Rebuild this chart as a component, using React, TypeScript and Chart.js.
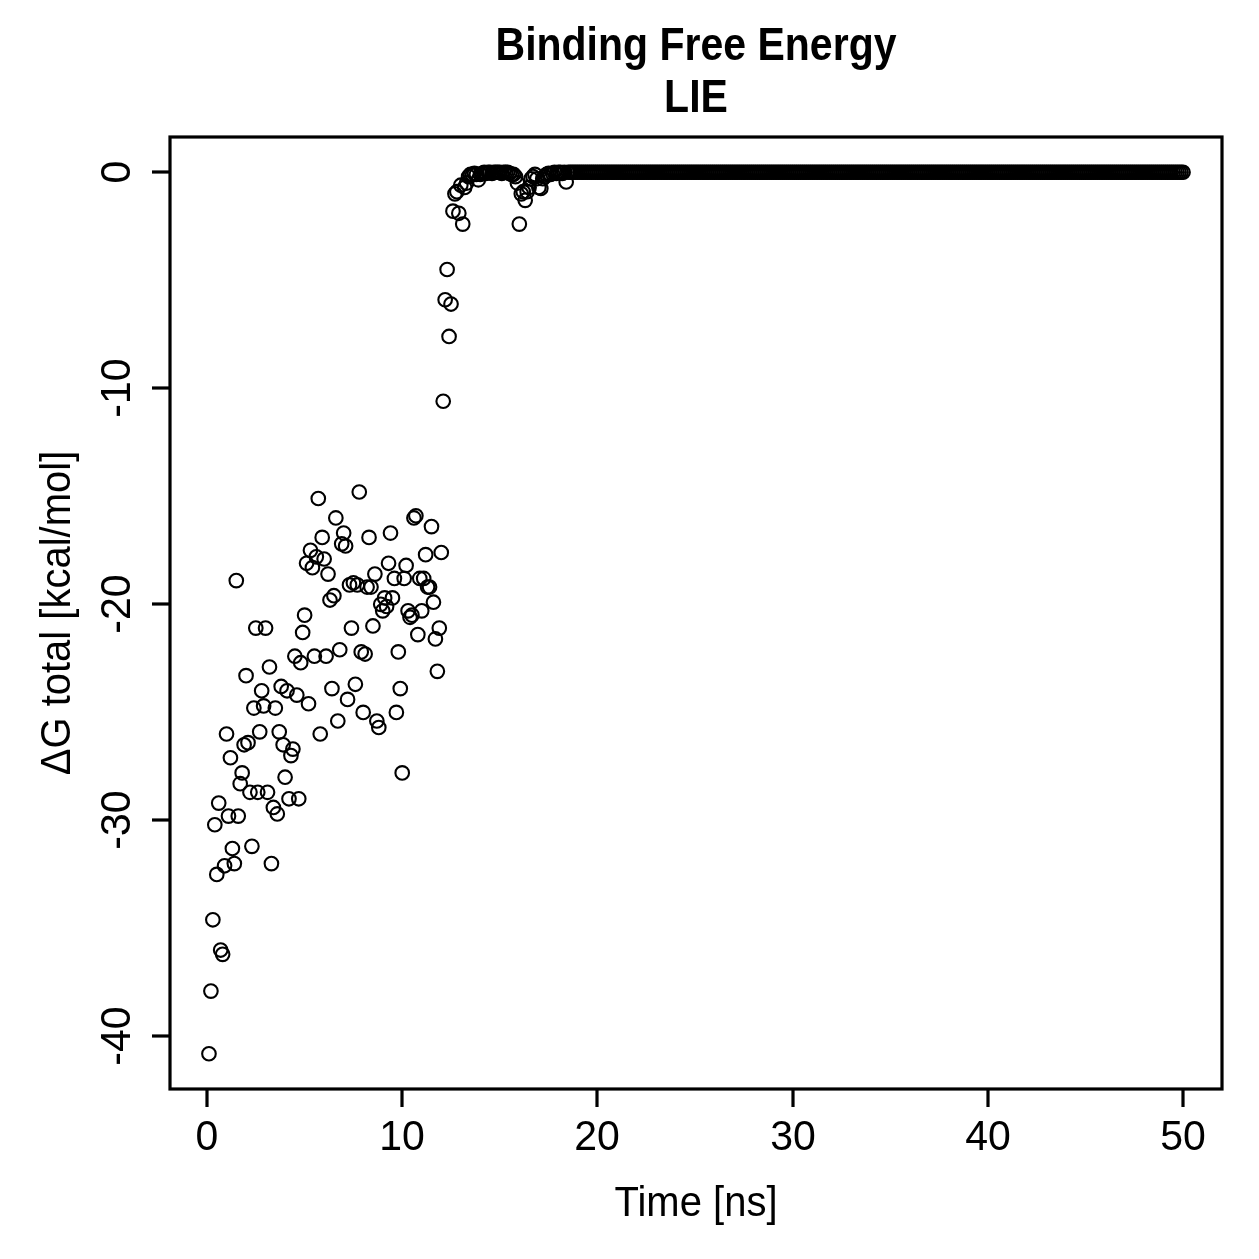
import React, { useEffect, useRef } from "react";
import { Chart, registerables } from "chart.js";

Chart.register(...registerables);

const titleLines = ["Binding Free Energy", "LIE"];
const xLabel = "Time [ns]";
const yLabel = "ΔG total [kcal/mol]";
const xTicks = [0, 10, 20, 30, 40, 50];
const yTicks = [0, -10, -20, -30, -40];

const timeNs = [
  0.1, 0.2, 0.3, 0.4, 0.5, 0.6, 0.7, 0.8, 0.9, 1.0,
  1.1, 1.2, 1.3, 1.4, 1.5, 1.6, 1.7, 1.8, 1.9, 2.0,
  2.1, 2.2, 2.3, 2.4, 2.5, 2.6, 2.7, 2.8, 2.9, 3.0,
  3.1, 3.2, 3.3, 3.4, 3.5, 3.6, 3.7, 3.8, 3.9, 4.0,
  4.1, 4.2, 4.3, 4.4, 4.5, 4.6, 4.7, 4.8, 4.9, 5.0,
  5.1, 5.2, 5.3, 5.4, 5.5, 5.6, 5.7, 5.8, 5.9, 6.0,
  6.1, 6.2, 6.3, 6.4, 6.5, 6.6, 6.7, 6.8, 6.9, 7.0,
  7.1, 7.2, 7.3, 7.4, 7.5, 7.6, 7.7, 7.8, 7.9, 8.0,
  8.1, 8.2, 8.3, 8.4, 8.5, 8.6, 8.7, 8.8, 8.9, 9.0,
  9.1, 9.2, 9.3, 9.4, 9.5, 9.6, 9.7, 9.8, 9.9, 10.0,
  10.1, 10.2, 10.3, 10.4, 10.5, 10.6, 10.7, 10.8, 10.9, 11.0,
  11.1, 11.2, 11.3, 11.4, 11.5, 11.6, 11.7, 11.8, 11.9, 12.0,
  12.1, 12.2, 12.3, 12.4, 12.5, 12.6, 12.7, 12.8, 12.9, 13.0,
  13.1, 13.2, 13.3, 13.4, 13.5, 13.6, 13.7, 13.8, 13.9, 14.0,
  14.1, 14.2, 14.3, 14.4, 14.5, 14.6, 14.7, 14.8, 14.9, 15.0,
  15.1, 15.2, 15.3, 15.4, 15.5, 15.6, 15.7, 15.8, 15.9, 16.0,
  16.1, 16.2, 16.3, 16.4, 16.5, 16.6, 16.7, 16.8, 16.9, 17.0,
  17.1, 17.2, 17.3, 17.4, 17.5, 17.6, 17.7, 17.8, 17.9, 18.0,
  18.1, 18.2, 18.3, 18.4, 18.5, 18.6, 18.7, 18.8, 18.9, 19.0,
  19.1, 19.2, 19.3, 19.4, 19.5, 19.6, 19.7, 19.8, 19.9, 20.0,
  20.1, 20.2, 20.3, 20.4, 20.5, 20.6, 20.7, 20.8, 20.9, 21.0,
  21.1, 21.2, 21.3, 21.4, 21.5, 21.6, 21.7, 21.8, 21.9, 22.0,
  22.1, 22.2, 22.3, 22.4, 22.5, 22.6, 22.7, 22.8, 22.9, 23.0,
  23.1, 23.2, 23.3, 23.4, 23.5, 23.6, 23.7, 23.8, 23.9, 24.0,
  24.1, 24.2, 24.3, 24.4, 24.5, 24.6, 24.7, 24.8, 24.9, 25.0,
  25.1, 25.2, 25.3, 25.4, 25.5, 25.6, 25.7, 25.8, 25.9, 26.0,
  26.1, 26.2, 26.3, 26.4, 26.5, 26.6, 26.7, 26.8, 26.9, 27.0,
  27.1, 27.2, 27.3, 27.4, 27.5, 27.6, 27.7, 27.8, 27.9, 28.0,
  28.1, 28.2, 28.3, 28.4, 28.5, 28.6, 28.7, 28.8, 28.9, 29.0,
  29.1, 29.2, 29.3, 29.4, 29.5, 29.6, 29.7, 29.8, 29.9, 30.0,
  30.1, 30.2, 30.3, 30.4, 30.5, 30.6, 30.7, 30.8, 30.9, 31.0,
  31.1, 31.2, 31.3, 31.4, 31.5, 31.6, 31.7, 31.8, 31.9, 32.0,
  32.1, 32.2, 32.3, 32.4, 32.5, 32.6, 32.7, 32.8, 32.9, 33.0,
  33.1, 33.2, 33.3, 33.4, 33.5, 33.6, 33.7, 33.8, 33.9, 34.0,
  34.1, 34.2, 34.3, 34.4, 34.5, 34.6, 34.7, 34.8, 34.9, 35.0,
  35.1, 35.2, 35.3, 35.4, 35.5, 35.6, 35.7, 35.8, 35.9, 36.0,
  36.1, 36.2, 36.3, 36.4, 36.5, 36.6, 36.7, 36.8, 36.9, 37.0,
  37.1, 37.2, 37.3, 37.4, 37.5, 37.6, 37.7, 37.8, 37.9, 38.0,
  38.1, 38.2, 38.3, 38.4, 38.5, 38.6, 38.7, 38.8, 38.9, 39.0,
  39.1, 39.2, 39.3, 39.4, 39.5, 39.6, 39.7, 39.8, 39.9, 40.0,
  40.1, 40.2, 40.3, 40.4, 40.5, 40.6, 40.7, 40.8, 40.9, 41.0,
  41.1, 41.2, 41.3, 41.4, 41.5, 41.6, 41.7, 41.8, 41.9, 42.0,
  42.1, 42.2, 42.3, 42.4, 42.5, 42.6, 42.7, 42.8, 42.9, 43.0,
  43.1, 43.2, 43.3, 43.4, 43.5, 43.6, 43.7, 43.8, 43.9, 44.0,
  44.1, 44.2, 44.3, 44.4, 44.5, 44.6, 44.7, 44.8, 44.9, 45.0,
  45.1, 45.2, 45.3, 45.4, 45.5, 45.6, 45.7, 45.8, 45.9, 46.0,
  46.1, 46.2, 46.3, 46.4, 46.5, 46.6, 46.7, 46.8, 46.9, 47.0,
  47.1, 47.2, 47.3, 47.4, 47.5, 47.6, 47.7, 47.8, 47.9, 48.0,
  48.1, 48.2, 48.3, 48.4, 48.5, 48.6, 48.7, 48.8, 48.9, 49.0,
  49.1, 49.2, 49.3, 49.4, 49.5, 49.6, 49.7, 49.8, 49.9, 50.0,
];

const deltaG = [
  -40.8, -37.9, -34.6, -30.2, -32.5, -29.2, -36.0, -36.2, -32.1, -26.0,
  -29.8, -27.1, -31.3, -32.0, -18.9, -29.8, -28.3, -27.8, -26.5, -23.3,
  -26.4, -28.7, -31.2, -24.8, -21.1, -28.7, -25.9, -24.0, -24.7, -21.1,
  -28.7, -22.9, -32.0, -29.4, -24.8, -29.7, -25.9, -23.8, -26.5, -28.0,
  -24.0, -29.0, -27.0, -26.7, -22.4, -24.2, -29.0, -22.7, -21.3, -20.5,
  -18.1, -24.6, -17.5, -18.3, -22.4, -17.8, -15.1, -26.0, -16.9, -17.9,
  -22.4, -18.6, -19.8, -23.9, -19.6, -16.0, -25.4, -22.1, -17.2, -16.7,
  -17.3, -24.4, -19.1, -21.1, -19.0, -23.7, -19.1, -14.8, -22.2, -25.0,
  -22.3, -19.2, -16.9, -19.2, -21.0, -18.6, -25.4, -25.7, -20.0, -20.3,
  -19.7, -20.1, -18.1, -16.7, -19.7, -18.8, -25.0, -22.2, -23.9, -27.8,
  -18.8, -18.2, -20.3, -20.6, -20.5, -16.0, -15.9, -21.4, -18.8, -20.3,
  -18.8, -17.7, -19.2, -19.2, -16.4, -19.9, -21.6, -23.1, -21.1, -17.6,
  -10.6, -5.9, -4.5, -7.6, -6.1, -1.8, -1.0, -0.9, -1.9, -0.6,
  -2.4, -0.7, -0.5, -0.2, -0.1, -0.1, -0.05, -0.1, -0.35, -0.1,
  -0.05, 0, -0.05, 0, 0, -0.05, 0, 0, 0, 0,
  -0.05, 0, 0, 0, -0.05, -0.1, -0.1, -0.2, -0.5, -2.4,
  -1.0, -0.9, -1.3, -0.9, -0.7, -0.3, -0.2, -0.1, -0.3, -0.7,
  -0.75, -0.3, -0.2, -0.1, -0.05, -0.1, -0.05, 0, -0.05, 0,
  0, -0.05, 0, -0.45, 0, 0, 0, 0, 0, 0,
  0, 0, 0, 0, 0, 0, 0, 0, 0, 0,
  0, 0, 0, 0, 0, 0, 0, 0, 0, 0,
  0, 0, 0, 0, 0, 0, 0, 0, 0, 0,
  0, 0, 0, 0, 0, 0, 0, 0, 0, 0,
  0, 0, 0, 0, 0, 0, 0, 0, 0, 0,
  0, 0, 0, 0, 0, 0, 0, 0, 0, 0,
  0, 0, 0, 0, 0, 0, 0, 0, 0, 0,
  0, 0, 0, 0, 0, 0, 0, 0, 0, 0,
  0, 0, 0, 0, 0, 0, 0, 0, 0, 0,
  0, 0, 0, 0, 0, 0, 0, 0, 0, 0,
  0, 0, 0, 0, 0, 0, 0, 0, 0, 0,
  0, 0, 0, 0, 0, 0, 0, 0, 0, 0,
  0, 0, 0, 0, 0, 0, 0, 0, 0, 0,
  0, 0, 0, 0, 0, 0, 0, 0, 0, 0,
  0, 0, 0, 0, 0, 0, 0, 0, 0, 0,
  0, 0, 0, 0, 0, 0, 0, 0, 0, 0,
  0, 0, 0, 0, 0, 0, 0, 0, 0, 0,
  0, 0, 0, 0, 0, 0, 0, 0, 0, 0,
  0, 0, 0, 0, 0, 0, 0, 0, 0, 0,
  0, 0, 0, 0, 0, 0, 0, 0, 0, 0,
  0, 0, 0, 0, 0, 0, 0, 0, 0, 0,
  0, 0, 0, 0, 0, 0, 0, 0, 0, 0,
  0, 0, 0, 0, 0, 0, 0, 0, 0, 0,
  0, 0, 0, 0, 0, 0, 0, 0, 0, 0,
  0, 0, 0, 0, 0, 0, 0, 0, 0, 0,
  0, 0, 0, 0, 0, 0, 0, 0, 0, 0,
  0, 0, 0, 0, 0, 0, 0, 0, 0, 0,
  0, 0, 0, 0, 0, 0, 0, 0, 0, 0,
  0, 0, 0, 0, 0, 0, 0, 0, 0, 0,
  0, 0, 0, 0, 0, 0, 0, 0, 0, 0,
  0, 0, 0, 0, 0, 0, 0, 0, 0, 0,
];

const FONT = "'Liberation Sans', Arial, Helvetica, sans-serif";

function stretchedText(ctx: any, text: string, x: number, y: number, sy: number) {
  ctx.save();
  ctx.translate(x, y);
  ctx.scale(1, sy);
  ctx.fillText(text, 0, 0);
  ctx.restore();
}

const rAxesPlugin = {
  id: "rAxes",
  afterDraw(chart: any) {
    const { ctx, chartArea, scales } = chart;
    const xs = scales.x;
    const ys = scales.y;
    ctx.save();
    ctx.strokeStyle = "#000";
    ctx.fillStyle = "#000";
    ctx.lineWidth = 3.2;
    ctx.lineCap = "butt";
    ctx.lineJoin = "miter";
    ctx.strokeRect(
      chartArea.left,
      chartArea.top,
      chartArea.right - chartArea.left,
      chartArea.bottom - chartArea.top
    );
    ctx.font = `41px ${FONT}`;
    ctx.textAlign = "center";
    ctx.textBaseline = "alphabetic";
    for (const v of xTicks) {
      const px = Math.round(xs.getPixelForValue(v));
      ctx.beginPath();
      ctx.moveTo(px, chartArea.bottom);
      ctx.lineTo(px, chartArea.bottom + 18);
      ctx.stroke();
      stretchedText(ctx, String(v), px, chartArea.bottom + 61, 1.04);
    }
    for (const v of yTicks) {
      const py = Math.round(ys.getPixelForValue(v));
      ctx.beginPath();
      ctx.moveTo(chartArea.left, py);
      ctx.lineTo(chartArea.left - 18, py);
      ctx.stroke();
      ctx.save();
      ctx.translate(chartArea.left - 40, py);
      ctx.rotate(-Math.PI / 2);
      ctx.scale(1, 1.04);
      ctx.textAlign = "center";
      ctx.fillText(String(v), 0, 0);
      ctx.restore();
    }
    const cx = (chartArea.left + chartArea.right) / 2;
    const cy = (chartArea.top + chartArea.bottom) / 2;
    ctx.font = `40px ${FONT}`;
    ctx.textAlign = "center";
    stretchedText(ctx, xLabel, cx, 1216, 1.04);
    ctx.save();
    ctx.translate(70, cy);
    ctx.rotate(-Math.PI / 2);
    ctx.scale(1, 1.04);
    ctx.fillText(yLabel, 0, 0);
    ctx.restore();
    ctx.font = `bold 41px ${FONT}`;
    stretchedText(ctx, titleLines[0], cx, 60, 1.12);
    stretchedText(ctx, titleLines[1], cx, 112, 1.12);
    ctx.restore();
  },
};

export default function App() {
  const canvasRef = useRef<HTMLCanvasElement | null>(null);

  useEffect(() => {
    if (!canvasRef.current) return;
    const points = timeNs.map((t, i) => ({ x: t, y: deltaG[i] }));
    const chart = new Chart(canvasRef.current, {
      type: "scatter",
      data: {
        datasets: [
          {
            data: points,
            pointStyle: "circle",
            pointRadius: 6.8,
            pointHoverRadius: 6.8,
            borderWidth: 2.1,
            pointBorderWidth: 2.1,
            borderColor: "#000",
            backgroundColor: "rgba(0,0,0,0)",
            pointBackgroundColor: "rgba(0,0,0,0)",
            pointBorderColor: "#000",
          },
        ],
      },
      options: {
        animation: false,
        responsive: false,
        devicePixelRatio: 1,
        events: [],
        layout: { padding: { left: 170, top: 137, right: 37, bottom: 170 } },
        plugins: {
          legend: { display: false },
          title: { display: false },
          tooltip: { enabled: false },
        },
        scales: {
          x: { type: "linear", min: -1.896, max: 51.996, display: false },
          y: { type: "linear", min: -42.432, max: 1.632, display: false },
        },
      },
      plugins: [rAxesPlugin],
    });
    return () => chart.destroy();
  }, []);

  return (
    <div
      style={{
        position: "absolute",
        left: 0,
        top: 0,
        width: 1259,
        height: 1259,
        background: "#fff",
      }}
    >
      <canvas ref={canvasRef} width={1259} height={1259} />
    </div>
  );
}
